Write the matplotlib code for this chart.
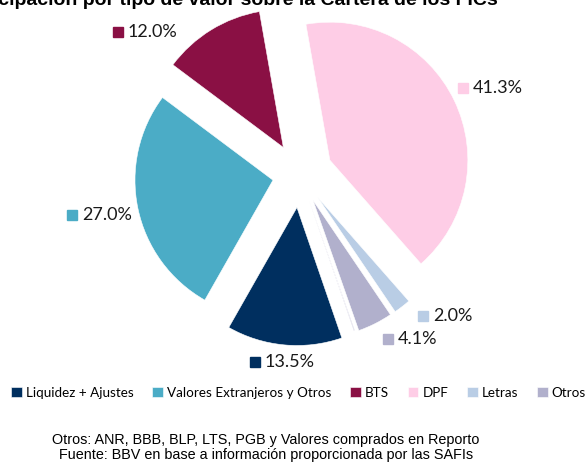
import numpy as np
import matplotlib
matplotlib.use("Agg")
import matplotlib.pyplot as plt
import matplotlib.patches as patches

categorias = ["Liquidez + Ajustes", "Valores Extranjeros y Otros", "BTS", "DPF", "Letras", "Otros", ""]
valores = [13.5, 27.0, 12.0, 41.3, 2.0, 4.1, 0.1]
colores = ["#002f5f", "#4bacc6", "#8a1044", "#fecde6", "#b9cde5", "#b1b0cc", "#a9a6c8"]
separacion = [0.24, 0.20, 0.23, 0.24, 0.21, 0.21, 0.20]
etiquetas = ["13.5%", "27.0%", "12.0%", "41.3%", "2.0%", "4.1%", ""]
# posicion de las etiquetas (px de la figura, esquina del cuadrito)
pos_etq = [(250, 362), (67, 215), (113, 32), (458, 88), (418, 316), (383, 339), None]

W, H = 587, 465
fig = plt.figure(figsize=(W / 100, H / 100), dpi=100)

cx, cy, R = 300, 174.5, 138
ax = fig.add_axes([(cx - 2 * R) / W, (H - cy - 2 * R) / H, 4 * R / W, 4 * R / H])
wedges, _ = ax.pie(valores, colors=colores, explode=separacion, startangle=289,
                   counterclock=False, wedgeprops=dict(linewidth=0.4, edgecolor="white"))
ax.set_xlim(-2, 2)
ax.set_ylim(-2, 2)
ax.set_aspect("equal")
ax.axis("off")

fuente = ["Lato", "DejaVu Sans"]
for etq, pos, col in zip(etiquetas, pos_etq, colores):
    if pos is None:
        continue
    x, y = pos
    fig.patches.append(patches.Rectangle((x / W, 1 - (y + 5) / H), 10 / W, 10 / H,
                                         transform=fig.transFigure, color=col))
    fig.text((x + 15) / W, 1 - y / H, etq, fontsize=13, family=fuente,
             va="center", ha="left", color="#1a1a1a")

leg = fig.legend(wedges[:6], categorias[:6], loc="center", bbox_to_anchor=(0.5085, 1 - 393 / H),
                 ncol=6, frameon=False, handlelength=0.8, handleheight=0.8, handletextpad=0.3,
                 columnspacing=1.38, prop=dict(family=fuente, size=9.7))

# el titulo sale cortado arriba, como en el original
fig.text(-45 / W, 1 - 5 / H, "Participación por tipo de valor sobre la Cartera de los FICs",
         fontsize=14, fontweight="bold", family="Liberation Sans", ha="left", va="baseline")

fig.text(266 / W, 1 - 440 / H, "Otros: ANR, BBB, BLP, LTS, PGB y Valores comprados en Reporto",
         fontsize=10.4, family="Liberation Sans", ha="center", va="center")
fig.text(266 / W, 1 - 455 / H, "Fuente: BBV en base a información proporcionada por las SAFIs",
         fontsize=10.4, family="Liberation Sans", ha="center", va="center")

fig.savefig("out.png", dpi=100)
